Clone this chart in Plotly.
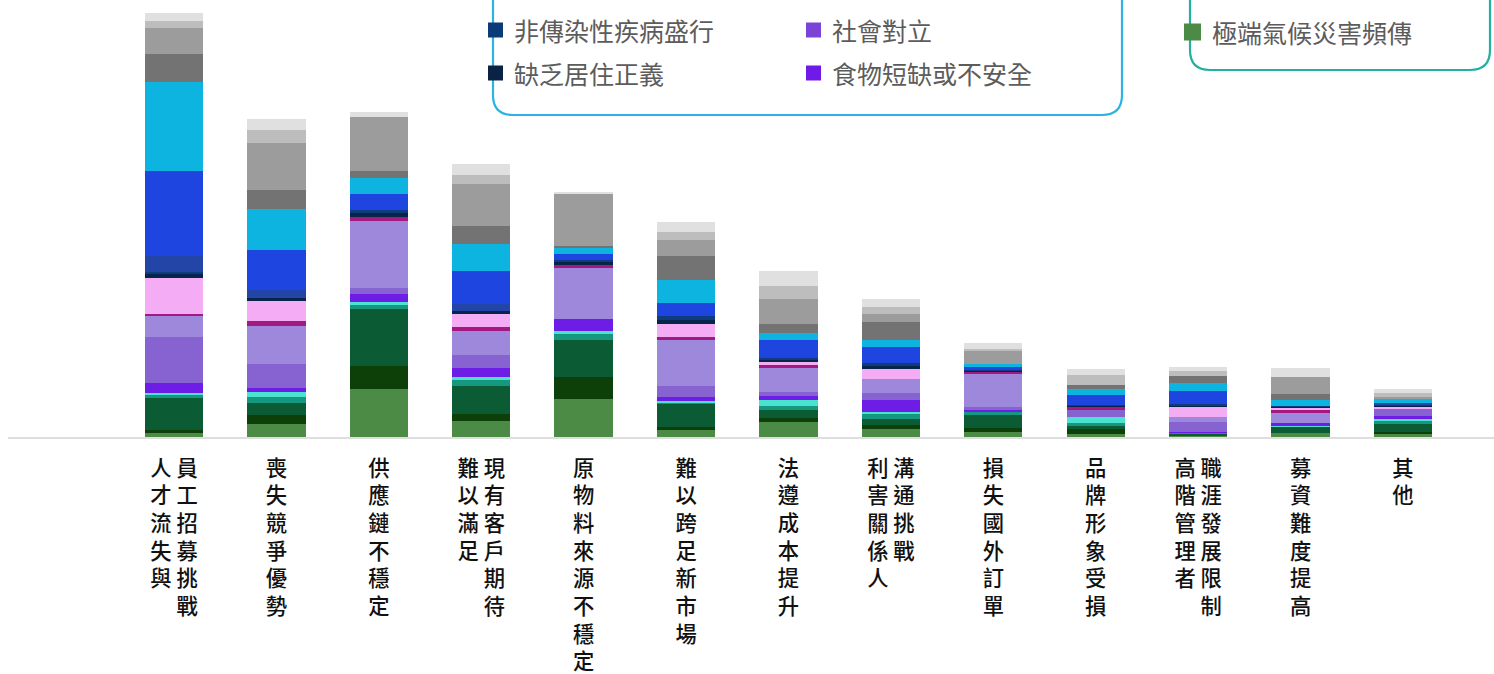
import plotly.graph_objects as go

# ---------------- data ----------------
label_columns = [
    ("人才流失與", "員工招募挑戰"),
    ("喪失競爭優勢",),
    ("供應鏈不穩定",),
    ("難以滿足", "現有客戶期待"),
    ("原物料來源不穩定",),
    ("難以跨足新市場",),
    ("法遵成本提升",),
    ("利害關係人", "溝通挑戰"),
    ("損失國外訂單",),
    ("品牌形象受損",),
    ("高階管理者", "職涯發展限制"),
    ("募資難度提高",),
    ("其他",),
]
categories = ["".join(c) for c in label_columns]

# series, bottom -> top
s_climate = [4, 13, 48, 16, 38, 7, 15, 8, 5, 3, 1, 4, 3]
s_green2 = [3, 9, 23, 7, 22, 3, 4, 4, 4, 5, 0, 0, 2]
s_green3 = [32, 12, 57, 28, 37, 23, 8, 6, 13, 3, 2, 6, 8]
s_teal = [3, 6, 4, 6, 6, 1.5, 4, 5.5, 3, 3, 1, 0, 3]
s_aqua = [2, 5, 3, 3, 3, 1.5, 6, 2, 0, 6, 0, 1.5, 2]
s_food = [10, 4.5, 8, 9, 12, 4, 4, 12, 2, 0, 1, 3, 3]
s_social = [46, 24, 6, 13, 0, 11, 4, 7, 3, 7, 10, 0, 7]
s_lilac = [21, 38, 67, 24, 51, 46, 24, 14, 33, 0, 5, 10, 0]
s_magenta = [2, 5, 4, 4, 3, 3, 3, 0, 2, 3, 0, 3, 0]
s_pink = [36, 20, 0, 13, 0, 13, 3, 10, 0, 0, 10, 2, 2]
s_housing = [4, 3, 4, 3, 3, 4, 2, 3, 1, 1, 1.5, 1, 1]
s_ncd = [2.5, 0, 3, 0, 2, 4, 2, 3, 1, 1, 1.5, 1, 1]
s_blue2 = [16, 8, 0, 7, 0, 0, 0, 0, 0, 0, 0, 0, 1]
s_blue = [85, 40, 16, 33, 6, 13, 18, 16, 3, 10, 13, 0, 1]
s_cyan = [89, 41, 16, 27, 6, 23, 7, 7, 3, 6, 8, 6, 4]
s_gray1 = [28, 19, 7, 18, 2, 24, 9, 18, 0, 4, 7, 6, 0]
s_gray2 = [26, 47, 54, 42, 52, 16, 25, 8, 13, 0, 0, 17, 2]
s_gray3 = [7, 13, 0, 9, 0, 8, 13, 7, 2, 10, 5, 0, 4]
s_gray4 = [8, 11, 5, 11, 2, 10, 15, 8, 6, 6, 4, 9, 4]

series = [
    ("極端氣候災害頻傳", s_climate, "#4b8b46"),
    ("環境風險二", s_green2, "#0d4009"),
    ("環境風險三", s_green3, "#0b5b35"),
    ("環境風險四", s_teal, "#16977f"),
    ("環境風險五", s_aqua, "#4be2cf"),
    ("食物短缺或不安全", s_food, "#6e1de6"),
    ("社會對立", s_social, "#8762d1"),
    ("社會風險三", s_lilac, "#9e88db"),
    ("社會風險四", s_magenta, "#a3197f"),
    ("社會風險五", s_pink, "#f4adf5"),
    ("缺乏居住正義", s_housing, "#07244a"),
    ("非傳染性疾病盛行", s_ncd, "#0f3b80"),
    ("社會風險八", s_blue2, "#2345a8"),
    ("社會風險九", s_blue, "#1f45e0"),
    ("社會風險十", s_cyan, "#0db4df"),
    ("其他風險一", s_gray1, "#737373"),
    ("其他風險二", s_gray2, "#9c9c9c"),
    ("其他風險三", s_gray3, "#bdbdbd"),
    ("其他風險四", s_gray4, "#e0e0e0"),
]

legend_items = [
    ("非傳染性疾病盛行", "#0b3a78"),
    ("缺乏居住正義", "#0a2244"),
    ("社會對立", "#7b44d8"),
    ("食物短缺或不安全", "#6f1ae8"),
    ("極端氣候災害頻傳", "#4b8b46"),
]

# ---------------- helpers ----------------
W, H = 1494, 674
PL, PT, PB = 8, 0, 237
PW = W - PL
PH = H - PT - PB


def xp(px):
    return (px - PL) / PW


def yp(py):
    return (PT + PH - py) / PH


def vertical(cols):
    if len(cols) == 1:
        return "<br>".join(cols[0])
    n = max(len(c) for c in cols)
    rows = []
    for i in range(n):
        parts = [c[i] if i < len(c) else "\u3000" for c in cols]
        rows.append(" ".join(parts))
    return "<br>".join(rows)


ticktext = [vertical(c) for c in label_columns]

fig = go.Figure()
for name, vals, color in series:
    fig.add_trace(go.Bar(
        x=list(range(len(categories))), y=vals, name=name,
        marker=dict(color=color, line=dict(width=0)),
        width=0.57, showlegend=False, hoverinfo="skip",
    ))

FONT = "Noto Sans CJK TC, Noto Sans CJK SC, sans-serif"

fig.update_layout(
    width=W, height=H,
    barmode="stack",
    margin=dict(l=PL, r=0, t=PT, b=PB, pad=0, autoexpand=False),
    paper_bgcolor="white", plot_bgcolor="white",
    xaxis=dict(
        range=[-1.621, 12.889], tickmode="array",
        tickvals=list(range(len(categories))), ticktext=ticktext,
        tickfont=dict(family=FONT, size=21.3, color="#111111", weight=500),
        showgrid=False, zeroline=False, showline=True,
        linecolor="#dedede", linewidth=2, ticks="",
        ticklabelstandoff=11, fixedrange=True, automargin=False,
    ),
    yaxis=dict(range=[0, PH], visible=False, fixedrange=True, automargin=False),
)

shapes = []
annotations = []


def rbox(x0, x1, ybot, r, color):
    top = -60
    path = (f"M {xp(x0)},{yp(top)} L {xp(x0)},{yp(ybot - r)} "
            f"Q {xp(x0)},{yp(ybot)} {xp(x0 + r)},{yp(ybot)} "
            f"L {xp(x1 - r)},{yp(ybot)} "
            f"Q {xp(x1)},{yp(ybot)} {xp(x1)},{yp(ybot - r)} "
            f"L {xp(x1)},{yp(top)}")
    shapes.append(dict(type="path", xref="paper", yref="paper", path=path,
                       line=dict(color=color, width=2.2)))


rbox(493, 1122, 115, 20, "#2bb4e3")
rbox(1190, 1490, 70, 20, "#22b0a0")

legend_pos = [(488, 30), (488, 73), (806, 30), (806, 73), (1184, 32)]
for (text, color), (mx, my) in zip(legend_items, legend_pos):
    s = 15 if mx < 1100 else 17
    shapes.append(dict(type="rect", xref="paper", yref="paper",
                       x0=xp(mx), x1=xp(mx + s), y0=yp(my + s / 2), y1=yp(my - s / 2),
                       fillcolor=color, line=dict(width=0)))
    annotations.append(dict(xref="paper", yref="paper", x=xp(mx + s + 9), y=yp(my),
                            xanchor="left", yanchor="middle", showarrow=False,
                            text=text, font=dict(family=FONT, size=25, color="#5c5c5c")))

fig.update_layout(shapes=shapes, annotations=annotations)
fig.write_html("out.html")
